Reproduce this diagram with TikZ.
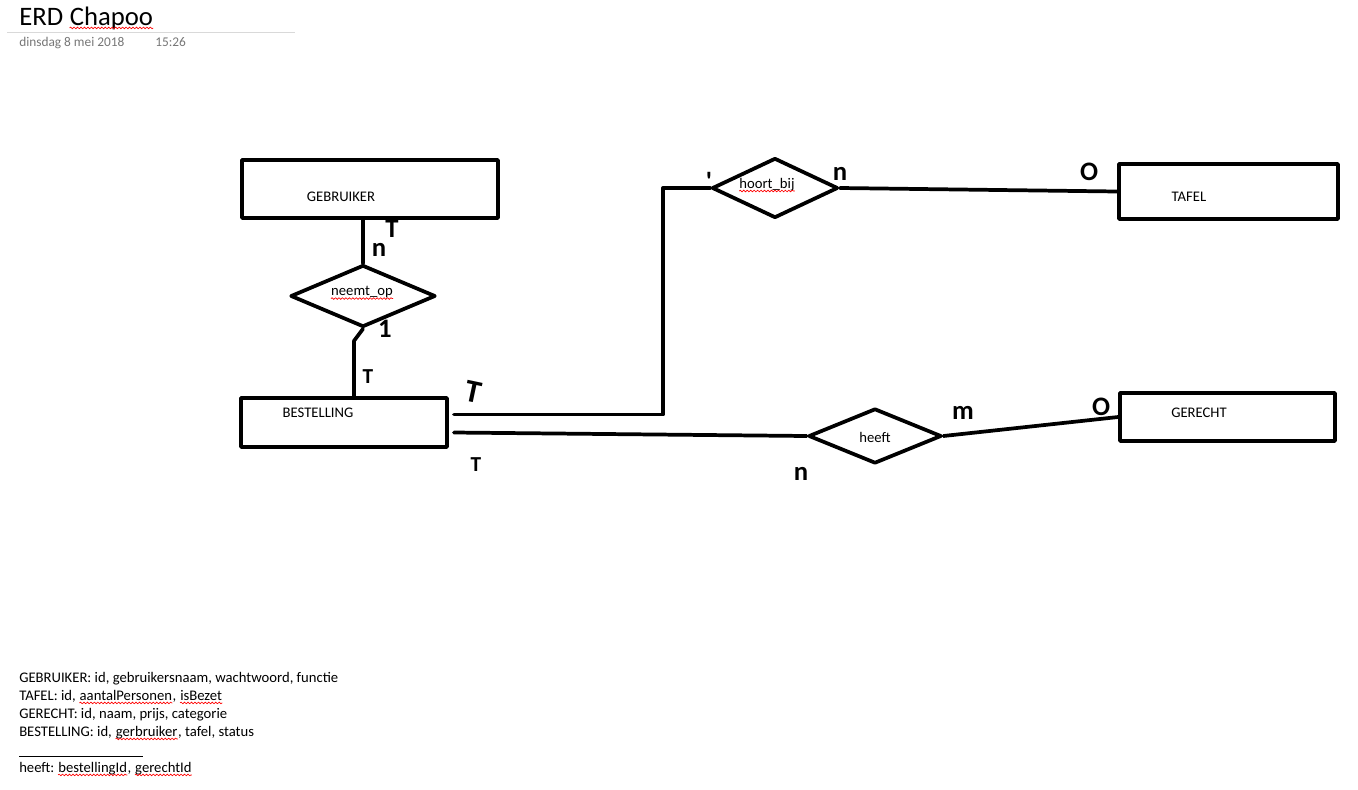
\documentclass[tikz,border=0pt]{standalone}
\usepackage{fontspec}
\setmainfont{Carlito}
\usepackage{xcolor}
\usepackage{tikz}
\usetikzlibrary{
  calc,
  decorations.pathmorphing,
  positioning,
  shapes.geometric
}
\frenchspacing
\definecolor{greytext}{RGB}{118,118,118}
\definecolor{ruleline}{RGB}{217,217,217}
\newcommand\pxl{0.75pt}
\tikzset{
  entity/.style = {
    draw, rectangle, line width=2.8pt, line join=round, inner sep=0pt
  },
  relation/.style = {
    draw, diamond, line width=2.8pt, line join=round, inner sep=0pt
  },
  link/.style = {
    line width=2.8pt, line cap=round, line join=round
  },
  etext/.style = {
    font=\fontsize{11}{13}\selectfont, inner sep=0pt
  },
  card/.style = {
    font=\fontsize{20}{20}\selectfont\bfseries, inner sep=0pt
  },
  datetext/.style = {
    anchor=base west, text=greytext, font=\fontsize{10}{12}\selectfont, inner sep=0pt
  },
  attr/.style = {
    anchor=base west, font=\fontsize{11}{13}\selectfont, inner sep=0pt
  },
  squiggle/.style = {
    red, line width=0.5pt,
    decorate, decoration={snake, amplitude=0.6pt, segment length=2.6pt}
  },
}
\newcommand\spell[1]{\tikz[baseline=(w.base)]{%
  \node[inner sep=0pt, anchor=center, draw=none, rotate=0] (w) {#1};%
  \draw[squiggle] ([yshift=-2.2pt]w.base west) -- ([yshift=-2.2pt]w.base east);}}
\begin{document}
\begin{tikzpicture}[x=0.75pt,y=-0.75pt]
\useasboundingbox (0,0) rectangle (1358,789);

\node[anchor=base west, inner sep=0pt, font=\fontsize{20}{24}\selectfont] (title) at (19,25) {ERD \spell{Chapoo}};
\draw[ruleline, line width=0.75pt] (7,32) -- (295,32);
\node[datetext] (date) at (19,46) {dinsdag 8 mei 2018};
\node[datetext] (time) at (155,46) {15:26};

\node[entity, minimum width=256*\pxl, minimum height=58*\pxl] (gebr) at (370,189) {};
\node[entity, minimum width=219*\pxl, minimum height=55*\pxl] (tafel) at (1228.5,191.5) {};
\node[entity, minimum width=206*\pxl, minimum height=49*\pxl] (best) at (344,422.5) {};
\node[entity, minimum width=215*\pxl, minimum height=48*\pxl] (ger) at (1227.5,417) {};

\node[relation, minimum width=145*\pxl, minimum height=62*\pxl] (neemt) at (363,296) {};
\node[relation, minimum width=126*\pxl, minimum height=60*\pxl] (hoort) at (775,188) {};
\node[relation, minimum width=133*\pxl, minimum height=55*\pxl] (heeft) at (875,436) {};

\draw node[etext] at (341,197) {GEBRUIKER};
\draw node[etext] at (1189,197) {TAFEL};
\draw node[etext] at (318,413) {BESTELLING};
\draw node[etext] at (1199,413) {GERECHT};
\draw node[etext] at (362,293) {\spell{neemt\_op}};
\draw node[etext] at (767,185) {\spell{hoort\_bij}};
\draw node[etext] at (875,437) {heeft};

\draw[link] (neemt.north) -- (neemt.north |- gebr.south);
\draw[link] (neemt.south) -- ++(-9,12) coordinate (j1) -- (j1 |- best.north);
\draw[link] ($(best.east)+(5,-8)$) -| ($(hoort.west)+(-47,0)$) -- (hoort.west);
\draw[link] (hoort.east) -- (tafel.west);
\draw[link] ($(best.east)+(5,10)$) -- (heeft.west);
\draw[link] (heeft.east) -- (ger.west);

\draw node[card] at (392,229) {T};
\draw node[card] at (379,250) {n};
\draw node[card] at (385,329) {1};
\draw node[card, font=\fontsize{16}{16}\selectfont\bfseries] at (368,377) {T};
\draw node[card, rotate=-12, font=\fontsize{24}{24}\selectfont\bfseries] at (473,392) {T};
\draw node[card, font=\fontsize{16}{16}\selectfont\bfseries] at (476,465) {T};
\draw node[card] at (801,474) {n};
\draw node[card] at (963,413) {m};
\draw node[card] at (1101,407) {O};
\draw node[card] at (1089,172) {O};
\draw node[card] at (709,181) {\textquotesingle};
\draw node[card] at (840,174) {n};

\node[attr] (l1) at (19,682) {GEBRUIKER: id, gebruikersnaam, wachtwoord, functie};
\node[attr] (l2) at (19,700) {TAFEL: id, \spell{aantalPersonen}, \spell{isBezet}};
\node[attr] (l3) at (19,718) {GERECHT: id, naam, prijs, categorie};
\node[attr] (l4) at (19,736) {BESTELLING: id, \spell{gerbruiker}, tafel, status};
\draw[line width=0.75pt] (19,756) -- (143,756);
\node[attr] (l5) at (19,772) {heeft: \spell{bestellingId}, \spell{gerechtId}};
\end{tikzpicture}
\end{document}
